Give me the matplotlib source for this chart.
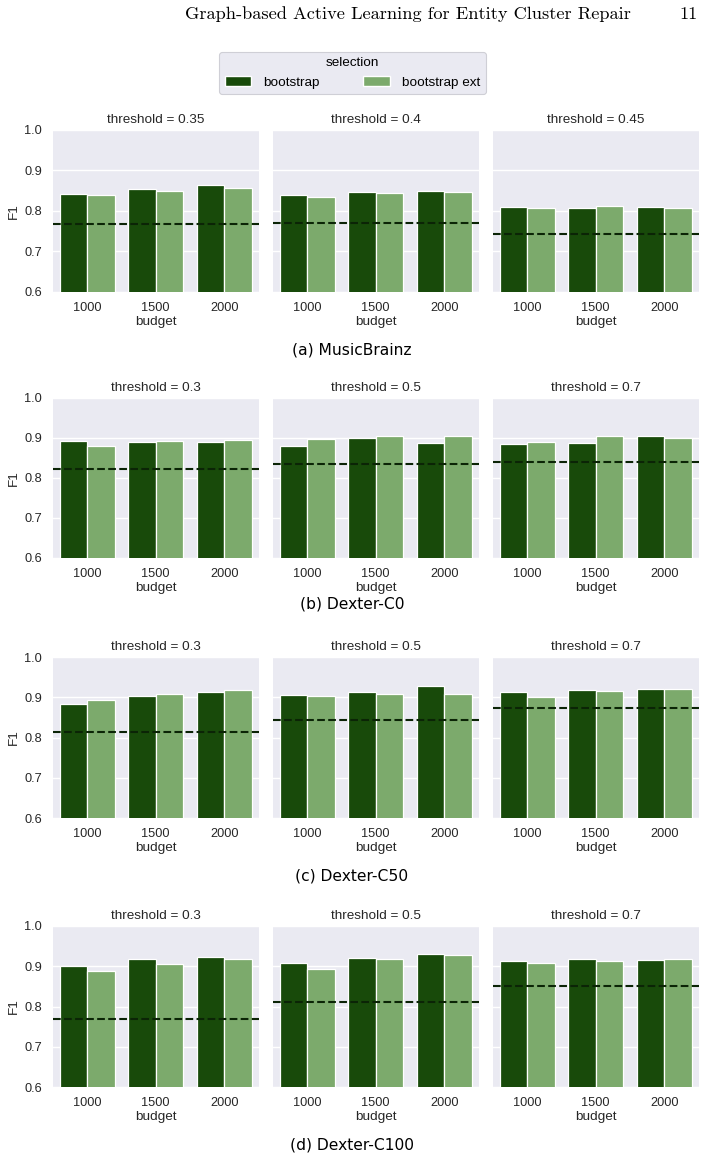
import numpy as np
import matplotlib
matplotlib.use("Agg")
import matplotlib.pyplot as plt
from matplotlib.patches import Patch

# ---------------- data ----------------
budgets = ["1000", "1500", "2000"]
selections = ["bootstrap", "bootstrap ext"]
datasets = ["(a) MusicBrainz", "(b) Dexter-C0", "(c) Dexter-C50", "(d) Dexter-C100"]
thresholds = [["0.35", "0.4", "0.45"],
              ["0.3", "0.5", "0.7"],
              ["0.3", "0.5", "0.7"],
              ["0.3", "0.5", "0.7"]]

# F1 values: [dataset][threshold] -> bootstrap / bootstrap ext per budget
f1_bootstrap = [
    [[0.843, 0.855, 0.863], [0.840, 0.846, 0.849], [0.811, 0.807, 0.809]],
    [[0.893, 0.890, 0.890], [0.881, 0.900, 0.888], [0.886, 0.887, 0.904]],
    [[0.883, 0.902, 0.914], [0.906, 0.914, 0.927], [0.912, 0.919, 0.921]],
    [[0.900, 0.917, 0.922], [0.907, 0.921, 0.931], [0.912, 0.917, 0.916]],
]
f1_bootstrap_ext = [
    [[0.839, 0.850, 0.858], [0.835, 0.845, 0.848], [0.807, 0.812, 0.807]],
    [[0.881, 0.892, 0.896], [0.898, 0.904, 0.906], [0.889, 0.904, 0.901]],
    [[0.893, 0.907, 0.917], [0.904, 0.909, 0.907], [0.900, 0.915, 0.920]],
    [[0.889, 0.905, 0.917], [0.894, 0.917, 0.929], [0.907, 0.914, 0.919]],
]
baseline = [
    [0.768, 0.770, 0.744],
    [0.822, 0.836, 0.841],
    [0.814, 0.843, 0.874],
    [0.768, 0.811, 0.850],
]

# ---------------- style ----------------
W, H = 704, 1158
BG = "#eaeaf2"
C_BOOT = "#184a0a"
C_EXT = "#7caa6c"
C_BASE = "#0b2406"
SANS = ["Liberation Sans", "DejaVu Sans"]
plt.rcParams["font.family"] = SANS

fig = plt.figure(figsize=(W / 100, H / 100), dpi=100)

col_left = [53, 273, 493]
col_w = 205.5
rows = [(130, 292), (398, 558), (657, 818), (926, 1087)]
caption_y = [350, 604, 876, 1145]

def fx(px):
    return px / W

def fy(py):
    return 1 - py / H

x = np.arange(len(budgets))
bw = 0.4

for r, (top, bot) in enumerate(rows):
    for c in range(3):
        ax = fig.add_axes([fx(col_left[c]), fy(bot), col_w / W, (bot - top) / H])
        ax.set_facecolor(BG)
        for s in ax.spines.values():
            s.set_visible(False)
        ax.set_axisbelow(True)
        ax.grid(True, axis="y", color="white", linewidth=1.0)
        ax.bar(x - bw / 2, f1_bootstrap[r][c], width=bw, color=C_BOOT,
               edgecolor="white", linewidth=0.9)
        ax.bar(x + bw / 2, f1_bootstrap_ext[r][c], width=bw, color=C_EXT,
               edgecolor="white", linewidth=0.9)
        ax.axhline(baseline[r][c], color=C_BASE, linestyle="--", linewidth=1.5)
        ax.set_xlim(-0.5, len(budgets) - 0.5)
        ax.set_ylim(0.6, 1.0)
        ax.set_yticks([0.6, 0.7, 0.8, 0.9, 1.0])
        ax.set_xticks(x)
        ax.set_xticklabels(budgets)
        ax.tick_params(axis="both", length=0, labelsize=9.2, colors="#262626")
        ax.tick_params(axis="x", pad=7)
        ax.tick_params(axis="y", pad=8)
        ax.set_xlabel("budget", fontsize=9.7, labelpad=1.5, color="#262626")
        ax.set_title(f"threshold = {thresholds[r][c]}", fontsize=9.7, pad=5,
                     color="#262626")
        if c == 0:
            ax.set_ylabel("F1", fontsize=9.7, labelpad=3, color="#262626")
        else:
            ax.set_yticklabels([])
    fig.text(0.5, fy(caption_y[r]), datasets[r], ha="center", va="center",
             fontsize=11.2, family="DejaVu Sans", color="black")

# legend
handles = [Patch(facecolor=C_BOOT, edgecolor="white"),
           Patch(facecolor=C_EXT, edgecolor="white")]
leg = fig.legend(handles, selections, title="selection", ncol=2,
                 loc="center", bbox_to_anchor=(fx(352.5), fy(73)),
                 fontsize=9.7, title_fontsize=9.7, columnspacing=3.2,
                 handletextpad=0.9, frameon=True, fancybox=True)
frame = leg.get_frame()
frame.set_facecolor(BG)
frame.set_edgecolor("#cfcfd6")
frame.set_alpha(1)
frame.set_linewidth(0.8)

# page header
fig.text(fx(185), fy(14), "Graph-based Active Learning for Entity Cluster Repair",
         ha="left", va="center", fontsize=13.2, family="cmr10", color="black")
fig.text(fx(698), fy(14), "11", ha="right", va="center", fontsize=13.2,
         family="cmr10", color="black")

fig.savefig("out.png", dpi=100, facecolor="white")
